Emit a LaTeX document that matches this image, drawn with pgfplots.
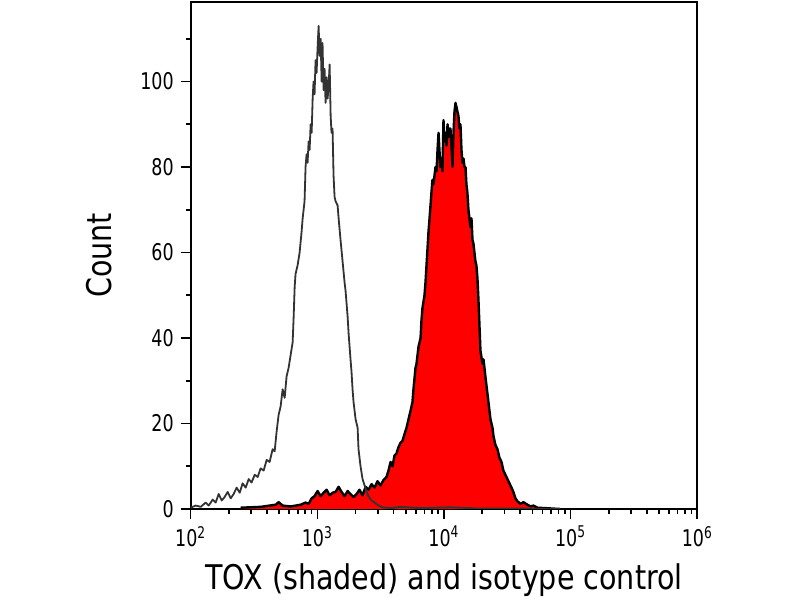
\documentclass[border=0pt]{standalone}
\usepackage{pgfplots}
\usepackage{pgfplotstable}
\pgfplotsset{compat=1.18}
\usepackage{fontspec}
\setmainfont[FakeStretch=0.84]{DejaVu Sans}
\newfontfamily\tickfont[FakeStretch=0.76]{DejaVu Sans}

\pgfplotstableread{
x y
2.394 0.3
2.552 0.5
2.671 1.0
2.694 1.6
2.726 0.8
2.789 0.6
2.868 1.0
2.907 1.5
2.931 1.2
2.955 2.5
2.978 3.0
3.002 4.2
3.026 3.0
3.049 3.8
3.073 4.5
3.097 3.2
3.120 3.8
3.144 4.0
3.168 5.2
3.191 4.0
3.215 3.0
3.239 4.2
3.262 3.5
3.286 2.8
3.310 3.5
3.333 4.5
3.357 3.2
3.381 5.2
3.404 4.5
3.428 5.8
3.452 5.0
3.475 6.5
3.499 5.5
3.523 6.8
3.546 7.5
3.562 9
3.578 11
3.594 10
3.609 12.5
3.625 13
3.641 14.5
3.657 15.5
3.673 16
3.688 17.5
3.704 19
3.720 21
3.736 23
3.751 25
3.759 28
3.775 33
3.783 34
3.799 38
3.815 40
3.822 44
3.830 47
3.846 50
3.854 53
3.862 57
3.870 61
3.878 65
3.886 68
3.901 74
3.909 77
3.917 76
3.925 78
3.933 80
3.941 79
3.949 84
3.957 88
3.964 84
3.972 80
3.980 82
3.988 79
3.996 91
4.004 86
4.012 88
4.020 85
4.028 90
4.035 87
4.043 89
4.051 89
4.059 85
4.067 80
4.075 88
4.083 93
4.091 95
4.099 94
4.106 93
4.114 92
4.122 89
4.130 90
4.138 84
4.146 81
4.154 82
4.162 80
4.170 80
4.177 76
4.185 74
4.193 70
4.209 66
4.217 68
4.225 63
4.233 62
4.248 58
4.256 57
4.264 54
4.272 49
4.280 43
4.288 37
4.304 34
4.312 35
4.327 31
4.335 29
4.351 25
4.367 21
4.383 19
4.391 17
4.406 15
4.422 14
4.438 12
4.454 11
4.469 9
4.485 8
4.501 7
4.517 6
4.533 5
4.548 4
4.564 2.5
4.580 1.8
4.604 1.2
4.627 1.6
4.659 1.0
4.683 0.6
4.706 0.8
4.738 0.3
4.801 0.2
4.919 0
}\tox

\pgfplotstableread{
x y
2.000 0.3
2.039 0.8
2.079 0.5
2.118 1.5
2.142 0.8
2.174 2.2
2.197 1.5
2.221 3.5
2.245 2.0
2.268 2.8
2.292 4.0
2.316 2.5
2.339 3.5
2.363 5.0
2.387 3.8
2.410 6.0
2.434 5.0
2.458 7.0
2.481 6.2
2.505 8.0
2.529 7.5
2.552 9.5
2.576 9.0
2.600 11.5
2.623 11.0
2.647 14.0
2.663 13.5
2.678 18
2.694 22
2.710 24
2.726 28
2.742 26
2.757 31
2.773 33
2.789 36
2.805 39
2.813 45
2.821 52
2.828 55
2.844 57
2.860 60
2.876 65
2.884 68
2.899 72
2.907 80
2.915 83
2.923 81
2.931 86
2.939 84
2.947 90
2.955 88
2.963 96
2.970 100
2.978 97
2.986 105
2.994 102
3.002 108
3.010 113
3.018 106
3.026 110
3.034 100
3.041 109
3.049 98
3.057 103
3.065 95
3.073 101
3.081 96
3.089 99
3.097 104
3.105 92
3.112 88
3.120 89
3.128 78
3.136 73
3.144 72
3.160 71
3.168 68
3.183 63
3.199 58
3.215 53
3.223 51
3.239 45
3.247 41
3.262 35
3.270 32
3.278 28
3.286 25
3.302 21
3.318 19
3.325 14
3.341 10
3.357 7
3.373 5.5
3.389 4
3.404 3
3.428 2
3.452 1.5
3.483 0.8
3.515 0.4
3.578 0.2
3.657 0.5
3.815 0.2
4.051 0.4
4.288 0.1
4.604 0.1
4.919 0
}\iso

\begin{document}
\begin{tikzpicture}
\path[use as bounding box] (0,0) rectangle (400pt,300pt);
\begin{axis}[
  name=ax,
  at={(95.35pt,45.5pt)}, anchor=south west,
  scale only axis, width=253.3pt, height=253.7pt,
  xmin=2, xmax=6, ymin=0, ymax=118.7,
  axis line style={line width=1pt},
  tick align=outside, tick pos=left,
  major tick length=5pt, minor tick length=2.5pt,
  tick style={black, line width=0.8pt},
  xtick={2,3,4,5,6},
  xticklabels={10\textsuperscript{2},10\textsuperscript{3},10\textsuperscript{4},10\textsuperscript{5},10\textsuperscript{6}},
  minor xtick={2.30103,2.47712,2.60206,2.69897,2.77815,2.84510,2.90309,2.95424,
               3.30103,3.47712,3.60206,3.69897,3.77815,3.84510,3.90309,3.95424,
               4.30103,4.47712,4.60206,4.69897,4.77815,4.84510,4.90309,4.95424,
               5.30103,5.47712,5.60206,5.69897,5.77815,5.84510,5.90309,5.95424},
  ytick={0,20,40,60,80,100},
  minor ytick={10,30,50,70,90,110},
  /pgf/number format/assume math mode=true,
  ticklabel style={font=\tickfont\fontsize{11.5}{13}\selectfont},
]
\addplot[fill=red, draw=none] table[x=x,y=y] {\tox} \closedcycle;
\addplot[black, line width=1.2pt, line join=round] table[x=x,y=y] {\tox};
\addplot[black!80, line width=0.9pt, line join=round] table[x=x,y=y] {\iso};
\end{axis}
\node[rotate=90, anchor=base, font=\fontsize{17}{20}\selectfont] at ([xshift=-39.35pt]ax.west) {Count};
\node[anchor=base, font=\fontsize{17}{20}\selectfont] at ([yshift=-40.5pt]ax.south) {TOX (shaded) and isotype control};
\end{tikzpicture}
\end{document}
